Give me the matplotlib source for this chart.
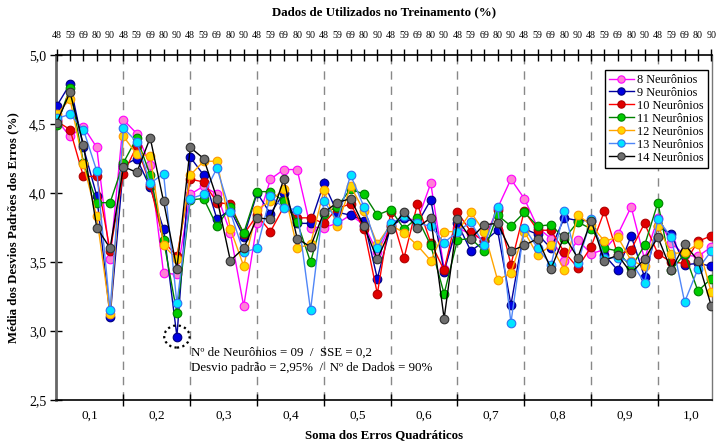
import matplotlib
matplotlib.use("Agg")
import matplotlib.pyplot as plt
from matplotlib.patches import Ellipse
import numpy as np

plt.rcParams['font.family'] = ['Liberation Serif', 'DejaVu Serif']

train_pct = ["48", "59", "69", "80", "90"]
sse_labels = ["0,1", "0,2", "0,3", "0,4", "0,5", "0,6", "0,7", "0,8", "0,9", "1,0"]
series_names = ["8 Neurônios", "9 Neurônios", "10 Neurônios", "11 Neurônios",
                "12 Neurônios", "13 Neurônios", "14 Neurônios"]

n8 = [4.53, 4.41, 4.48, 4.33, 3.52, 4.53, 4.43, 4.20, 3.42, 3.41,
      3.99, 4.05, 3.99, 3.71, 3.18, 3.78, 4.10, 4.17, 4.17, 3.75,
      3.75, 3.78, 3.84, 3.77, 3.57, 3.76, 3.82, 3.80, 4.07, 3.45,
      3.75, 3.70, 3.66, 3.89, 4.10, 3.96, 3.75, 3.67, 3.51, 3.66,
      3.56, 3.59, 3.70, 3.90, 3.52, 3.82, 3.64, 3.55, 3.54, 3.61]
n9 = [4.63, 4.79, 4.33, 3.98, 3.10, 4.20, 4.25, 4.04, 3.74, 2.96,
      4.26, 4.13, 3.81, 3.88, 3.68, 4.00, 3.85, 4.00, 3.78, 3.78,
      4.07, 3.86, 3.84, 3.80, 3.38, 3.76, 3.82, 3.78, 3.95, 3.43,
      3.78, 3.58, 3.65, 3.73, 3.19, 3.74, 3.70, 3.60, 3.82, 3.80,
      3.80, 3.55, 3.44, 3.69, 3.39, 3.76, 3.70, 3.48, 3.49, 3.47]
n10 = [4.52, 4.46, 4.12, 4.12, 3.58, 4.14, 4.34, 4.06, 3.65, 3.54,
       4.10, 4.08, 3.93, 3.92, 3.70, 3.84, 3.72, 3.90, 3.82, 3.82,
       3.78, 3.89, 3.92, 3.74, 3.27, 3.86, 3.53, 3.92, 3.64, 3.44,
       3.86, 3.72, 3.65, 3.88, 3.48, 3.87, 3.73, 3.73, 3.57, 3.46,
       3.61, 3.87, 3.55, 3.59, 3.78, 3.56, 3.50, 3.49, 3.65, 3.69]
n11 = [4.49, 4.76, 4.22, 3.93, 3.93, 4.22, 4.40, 4.13, 3.66, 3.13,
       3.95, 3.96, 3.76, 3.90, 3.71, 4.01, 4.01, 3.94, 3.79, 3.50,
       3.85, 3.90, 4.03, 3.99, 3.84, 3.88, 3.74, 3.82, 3.62, 3.27,
       3.66, 3.67, 3.58, 3.84, 3.76, 3.86, 3.76, 3.77, 3.67, 3.79,
       3.74, 3.60, 3.58, 3.46, 3.62, 3.93, 3.44, 3.56, 3.29, 3.38]
n12 = [4.57, 4.68, 4.21, 3.83, 3.12, 4.41, 4.28, 4.27, 3.62, 3.52,
       4.13, 4.23, 4.23, 3.74, 3.47, 3.88, 3.94, 4.03, 3.60, 3.63,
       4.02, 3.76, 4.05, 3.87, 3.63, 3.77, 3.71, 3.62, 3.51, 3.72,
       3.72, 3.86, 3.72, 3.37, 3.42, 3.72, 3.55, 3.62, 3.44, 3.84,
       3.77, 3.65, 3.68, 3.51, 3.47, 3.76, 3.56, 3.57, 3.63, 3.28]
n13 = [4.54, 4.57, 4.46, 4.16, 3.15, 4.47, 4.37, 4.07, 4.14, 3.20,
       3.96, 3.99, 4.18, 3.86, 3.57, 3.60, 3.98, 3.89, 3.88, 3.15,
       3.94, 3.80, 4.13, 3.90, 3.60, 3.78, 3.83, 3.78, 3.76, 3.64,
       3.72, 3.79, 3.62, 3.90, 3.06, 3.75, 3.60, 3.48, 3.87, 3.49,
       3.81, 3.53, 3.53, 3.50, 3.35, 3.81, 3.68, 3.21, 3.45, 3.58]
n14 = [4.51, 4.73, 4.35, 3.75, 3.60, 4.19, 4.15, 4.40, 3.94, 3.45,
       4.33, 4.25, 3.96, 3.51, 3.60, 3.82, 3.81, 4.10, 3.67, 3.61,
       3.86, 3.93, 3.96, 3.76, 3.52, 3.74, 3.86, 3.75, 3.82, 3.09,
       3.81, 3.67, 3.77, 3.78, 3.58, 3.62, 3.67, 3.45, 3.69, 3.53,
       3.80, 3.51, 3.55, 3.42, 3.52, 3.68, 3.44, 3.63, 3.51, 3.18]

all_series = [n8, n9, n10, n11, n12, n13, n14]
line_colors = ["#FF00FF", "#0000A0", "#FF0000", "#008000", "#FFA500", "#4F86F7", "#000000"]
face_colors = ["#FF80D5", "#0000E0", "#E00000", "#00CC00", "#FFD700", "#00E5FF", "#6E6E6E"]
edge_colors = ["#FF00FF", "#000080", "#B00000", "#008000", "#FF9900", "#3070F0", "#303030"]

n_groups = len(sse_labels)
n_per = len(train_pct)
x = np.arange(n_groups * n_per)

fig = plt.figure(figsize=(7.22, 4.45), dpi=100)
ax = fig.add_axes([56 / 722, 45 / 445, 656 / 722, 345 / 445])

for k in range(1, n_groups):
    ax.axvline(k * n_per, color="#888888", linestyle=(0, (6, 5)), linewidth=1.0, zorder=1)

for s, name, lc, fc, ec in zip(all_series, series_names, line_colors, face_colors, edge_colors):
    ax.plot(x, s, color=lc, linewidth=1.0, marker="o", markersize=6.2,
            markerfacecolor=fc, markeredgecolor=ec, markeredgewidth=0.8,
            label=name, zorder=3)

ax.set_xlim(-0.05, len(x) - 1 + 0.05)
ax.set_ylim(2.5, 5.0)
yt = np.arange(2.5, 5.01, 0.5)
ax.set_yticks(yt)
ax.set_yticklabels([f"{v:.1f}".replace(".", ",") for v in yt], fontsize=10)
ax.tick_params(axis="y", direction="inout", length=8, width=1.0, pad=3)

centers = [k * n_per + n_per / 2 for k in range(n_groups)]
ax.set_xticks(centers)
ax.set_xticklabels(sse_labels, fontsize=9.5)
ax.tick_params(axis="x", which="major", length=0, pad=7)
ax.set_xticks([k * n_per for k in range(1, n_groups)], minor=True)
ax.tick_params(axis="x", which="minor", direction="inout", length=8, width=1.0)

ax.spines["left"].set_color("#666666")
ax.spines["left"].set_linewidth(2.0)
ax.spines["right"].set_color("#777777")
ax.spines["right"].set_linewidth(1.0)
ax.spines["bottom"].set_linewidth(1.2)
ax.spines["top"].set_linewidth(1.2)

ax.set_xlabel("Soma dos Erros Quadráticos", fontsize=9.3, fontweight="bold", labelpad=5)
ax.set_ylabel("Média dos Desvios Padrões dos Erros (%)", fontsize=9.3, fontweight="bold", labelpad=7)

top = ax.twiny()
top.set_xlim(ax.get_xlim())
top.set_xticks(x)
top.set_xticklabels(train_pct * n_groups, fontsize=7.2)
top.tick_params(axis="x", direction="inout", length=8, width=1.0, pad=7)
top.set_xlabel("Dados de Utilizados no Treinamento (%)", fontsize=9.3, fontweight="bold", labelpad=11)
for sp in top.spines.values():
    sp.set_visible(False)

# annotation of minimum
imin = int(np.argmin(n9))
ell = Ellipse((x[imin], n9[imin]), width=1.9, height=0.16, fill=False,
              linestyle=(0, (1, 1.5)), linewidth=1.6, edgecolor="black", zorder=4)
ax.add_patch(ell)
ax.text(x[imin] + 1.05, 2.845, "Nº de Neurônios = 09  /  SSE = 0,2", fontsize=9.3, va="center", ha="left")
ax.text(x[imin] + 1.05, 2.735, "Desvio padrão = 2,95%  /  Nº de Dados = 90%", fontsize=9.3, va="center", ha="left")

leg = ax.legend(loc="upper right", bbox_to_anchor=(0.998, 0.965), fontsize=8.8, frameon=True,
                fancybox=False, edgecolor="black", framealpha=1.0, handlelength=2.0,
                markerscale=0.85, borderpad=0.35, labelspacing=0.08, handletextpad=0.3,
                borderaxespad=0.2)
leg.get_frame().set_linewidth(1.0)
leg.set_zorder(10)

fig.savefig("out.png", dpi=100)
